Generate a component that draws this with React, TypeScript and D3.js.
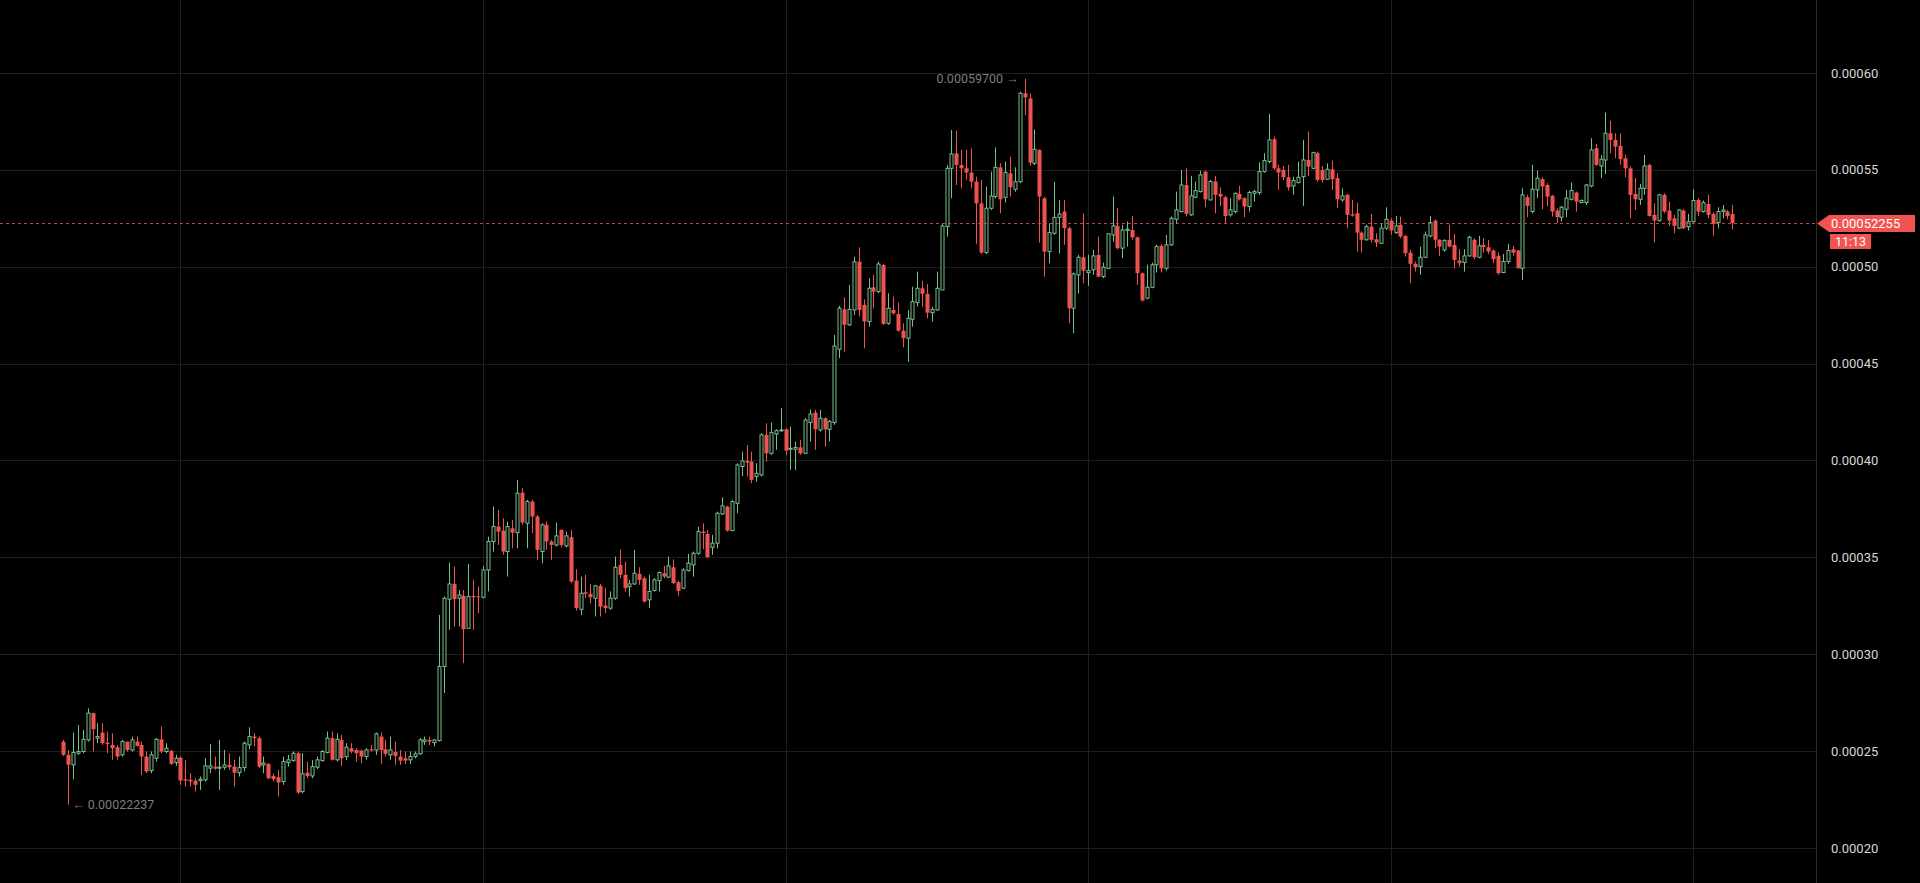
import React from "react";
import * as d3 from "d3";

const W = 1920;
const H = 883;

// prices stored in millionths (x 1e-6)
const PRICE_UNIT = 1e-6;

// [open, high, low, close]
const ohlcA: number[][] = [
  [254.9,255.8,247.5,248.1],[248.1,250.6,222.37,242.9],[242.9,259.6,235.5,249.3],[248.9,263.5,248.1,249.8],
  [249.8,261.0,248.9,256.1],[255.8,272.1,254.9,269.6],[269.6,269.9,249.8,261.3],[256.7,264.4,254.1,257.5],
  [259.6,264.4,253.2,254.1],[254.4,260.1,248.9,253.7],[253.2,259.2,245.5,251.5],[252.0,253.2,245.5,247.2],
  [248.1,255.8,247.2,254.9],[254.9,254.9,249.8,250.6],[250.6,257.5,249.8,255.8],[254.9,257.5,252.4,252.7],
  [253.2,254.9,237.7,247.2],[247.2,249.8,238.6,239.5],[240.0,249.8,238.6,248.1],[246.3,256.7,244.6,256.1],
  [256.1,262.7,248.9,249.8],[249.8,254.1,248.9,251.5],[250.1,250.6,242.9,243.4],[244.1,248.1,242.4,246.3],
  [246.7,247.2,232.6,234.8],[235.5,245.5,231.7,234.8],[235.2,238.6,231.7,234.3],[234.8,236.0,229.1,232.6],
  [234.8,236.9,230.0,235.5],[235.2,246.3,234.3,242.4],[241.2,253.7,238.6,242.4],[242.0,247.2,240.3,241.0],
  [241.2,255.8,230.0,241.7],[241.7,250.6,240.3,242.9],[242.9,248.9,240.3,241.7],[242.0,245.5,231.7,238.9],
  [238.9,247.2,236.9,241.5],[241.5,254.9,239.5,254.1],[253.2,262.3,251.0,257.5],[257.5,259.2,252.4,256.7],
  [256.7,257.5,241.2,242.0],[242.9,247.2,238.6,243.8],[243.4,243.8,235.5,236.0],[237.2,238.6,234.3,235.5],
  [236.5,240.3,226.6,233.8],[234.3,247.2,232.6,244.6],[244.1,248.1,242.0,245.5],[245.1,249.8,244.6,248.9],
  [248.9,249.8,227.9,228.6],[229.1,248.9,228.3,238.3],[238.9,244.6,236.0,237.2],[237.2,245.5,236.0,242.0],
  [241.7,247.2,240.7,245.5],[245.1,250.6,244.6,249.8],[249.3,260.1,248.9,256.7],[256.7,260.1,245.1,245.5],
  [245.5,259.2,244.6,256.1],[255.8,258.4,242.4,246.3],[247.2,254.1,245.5,252.0],[251.5,254.1,248.9,249.8],
  [250.6,251.5,244.6,248.9],[250.3,250.6,243.8,247.2],[247.2,251.5,245.5,250.6],[251.0,253.2,249.8,250.3],
  [250.6,259.6,248.1,258.9],[257.5,259.6,243.4,250.6],[251.0,255.8,247.2,248.6],[248.1,257.5,245.5,250.6],
  [249.6,254.9,242.9,247.5],[247.2,250.6,242.9,245.1],[246.3,249.8,243.4,245.1],[245.5,249.8,243.4,247.2],
  [247.2,249.8,246.3,248.6],[248.6,256.7,248.1,255.8],[254.9,257.5,253.2,255.8],[255.8,257.5,253.2,254.9],
  [254.4,256.1,252.4,255.8],
];

const ohlcB: number[][] = [
  [255.5,320.3,255.0,293.7],[293.7,329.8,280.0,328.9],[328.4,347.3,312.6,336.3],[336.3,345.3,314.3,328.4],
  [328.9,333.2,314.3,330.6],[330.1,333.2,295.4,312.9],[313.4,346.6,313.4,329.8],[330.1,338.4,312.6,329.4],
  [329.8,335.0,321.2,329.4],[329.4,345.3,328.9,343.5],[343.5,360.7,332.4,358.2],[358.2,376.2,353.0,365.9],
  [365.9,374.5,356.4,363.3],[363.8,370.2,351.3,353.0],[353.0,368.5,340.1,365.9],[365.0,369.3,354.7,362.8],
  [362.8,390.0,354.7,383.1],[383.4,385.7,366.8,368.0],[367.6,379.7,354.7,378.8],[378.8,379.7,362.5,371.1],
  [371.1,371.9,348.7,353.9],[353.0,367.6,347.0,366.8],[366.8,368.5,353.9,358.2],[358.2,359.0,348.7,356.4],
  [356.4,368.0,355.6,361.1],[364.2,364.5,355.2,356.4],[355.9,363.3,355.2,361.1],[360.4,364.2,336.7,337.5],
  [338.0,343.9,322.6,323.8],[323.2,340.1,320.3,331.5],[332.0,341.0,328.9,331.2],[331.2,336.3,326.3,329.4],
  [328.9,335.8,319.5,335.3],[335.3,336.3,319.5,324.6],[325.1,334.1,321.2,323.8],[323.8,332.4,322.9,328.9],
  [328.9,350.4,328.1,344.9],[346.1,354.2,339.2,341.0],[341.0,347.8,332.4,334.1],[334.9,338.4,329.8,336.3],
  [336.3,353.9,335.8,341.8],[341.5,344.9,335.8,338.4],[339.2,340.1,326.7,327.2],[328.1,341.0,323.8,332.4],
  [332.9,339.2,332.4,338.4],[338.0,342.7,332.4,342.2],[341.8,345.6,339.2,340.1],[339.8,350.4,339.2,345.6],
  [344.9,349.0,336.3,336.7],[337.2,338.0,330.1,332.7],[334.1,344.4,333.7,343.5],[343.2,351.8,342.7,347.0],
  [346.1,353.0,340.1,352.1],[352.1,365.9,351.3,363.3],[363.3,367.6,354.2,362.5],[362.1,364.2,349.6,350.1],
  [355.2,361.6,351.3,357.3],[357.3,373.6,354.7,372.8],[372.4,381.0,371.9,376.6],[376.2,376.6,363.3,363.8],
  [363.8,379.7,363.6,378.8],[377.9,398.6,372.8,397.7],
];

const ohlcC: number[][] = [
  [396.9,404.6,392.0,399.8],[399.8,408.0,391.7,398.9],[399.4,404.6,388.3,390.0],[391.7,398.6,389.1,393.4],
  [392.6,414.1,391.7,413.2],[413.2,419.2,399.4,403.7],[403.7,419.6,402.9,414.4],[413.7,416.1,405.5,415.4],
  [415.3,427.0,414.9,415.8],[416.1,416.6,402.9,405.1],[405.8,417.5,395.1,406.3],[405.8,409.8,395.1,406.8],
  [406.8,410.6,402.9,403.7],[403.7,421.8,403.4,420.9],[419.6,426.4,409.8,424.0],[424.7,426.1,405.5,416.1],
  [415.8,426.1,414.9,421.8],[421.8,422.3,407.2,416.1],[416.1,420.9,409.8,420.1],[419.6,464.8,418.4,459.1],
  [457.4,479.8,452.8,478.6],[478.0,484.2,456.2,470.0],[470.0,490.6,469.4,478.0],[477.7,505.2,475.1,502.6],
  [502.6,510.0,474.3,477.7],[480.3,483.2,457.9,471.7],[471.7,494.0,469.1,488.9],[489.4,495.8,478.6,487.2],
  [487.2,502.6,486.3,501.4],[500.9,501.4,470.0,470.5],[470.8,486.3,470.0,478.6],[477.7,484.6,475.1,476.0],
  [475.6,481.5,466.5,467.0],[467.0,470.8,458.4,463.1],[463.1,477.7,451.0,473.4],[472.9,489.7,469.1,482.0],
  [481.5,497.5,479.4,488.9],[488.9,492.8,479.4,486.0],[486.0,491.1,473.4,476.3],[476.3,479.4,471.7,478.0],
  [477.7,497.5,477.4,488.9],[488.0,522.4,488.0,521.0],[520.7,552.5,515.5,550.8],[550.8,570.6,535.3,558.2],
  [558.5,570.2,542.2,552.5],[552.5,560.3,540.5,550.8],[550.8,560.3,544.8,548.6],[548.6,561.1,540.5,543.9],
  [543.9,546.5,511.8,532.7],[532.7,544.8,506.6,507.3],[507.3,541.3,506.6,530.2],[530.2,549.1,529.3,536.5],
  [536.2,561.6,535.3,551.3],[551.3,553.4,527.6,534.8],[535.8,554.2,533.1,548.6],[548.2,556.8,536.2,541.0],
  [540.0,551.3,538.8,543.9],[543.9,590.4,543.1,589.5],[589.5,597.0,578.3,587.4],[586.9,589.5,552.0,553.7],
  [553.4,570.9,552.5,560.6],[560.3,560.6,512.4,536.2],[535.3,536.2,494.9,507.8],[507.8,522.4,501.8,517.6],
  [517.3,543.9,516.4,525.5],[525.5,534.5,506.9,527.2],
];

const ohlcD: number[][] = [
  [528.5,534.5,511.3,519.9],[519.9,520.7,470.9,478.6],[478.6,497.0,465.7,496.3],[495.8,506.1,486.3,504.9],
  [504.9,527.6,491.5,498.0],[497.0,506.1,490.1,498.0],[498.4,508.7,495.8,505.6],[506.1,515.6,494.6,494.9],
  [494.9,502.2,494.1,499.8],[499.2,517.3,498.7,517.0],[516.4,536.2,513.0,521.1],[521.1,530.2,509.0,509.6],
  [509.6,521.6,504.4,519.0],[518.7,523.3,510.4,519.4],[519.0,526.2,513.9,515.2],[515.2,515.6,490.6,496.7],
  [496.7,497.0,482.0,482.6],[483.8,501.0,483.2,489.4],[489.4,502.2,488.9,501.0],[501.0,511.3,497.0,510.4],
  [510.8,511.8,497.0,499.2],[499.2,516.4,498.0,511.3],[511.3,525.9,510.8,525.0],[524.5,538.8,522.1,529.3],
  [528.5,550.0,528.0,542.2],[542.2,550.8,525.9,527.3],[526.8,546.9,526.2,536.6],[535.9,544.0,535.4,539.3],
  [538.8,549.6,538.3,547.4],[549.1,549.6,530.7,534.8],[534.5,544.8,534.2,544.0],[544.0,546.9,527.6,537.1],
  [537.6,541.0,531.4,536.2],[535.9,536.6,522.1,526.2],[526.8,535.4,525.9,529.3],[528.5,538.3,527.6,537.9],
  [537.6,541.7,534.2,534.8],[535.4,535.9,525.6,531.1],[531.1,539.3,528.5,538.3],[537.9,539.7,533.6,538.8],
  [538.3,553.8,537.1,549.1],[549.1,558.6,548.6,554.8],[554.3,578.9,553.4,565.5],[565.8,567.2,550.0,550.8],
  [550.8,552.6,539.7,548.6],[550.0,552.0,544.8,546.2],[546.2,552.6,539.3,541.0],[541.7,546.5,537.1,544.5],
  [543.4,554.3,543.1,546.2],[546.5,565.5,531.4,555.1],[555.1,569.8,546.9,551.7],[550.8,559.4,550.3,558.9],
  [558.6,559.4,543.9,544.8],[550.0,552.0,543.4,544.8],[545.2,553.4,544.8,550.3],[550.3,554.8,539.7,545.2],
  [545.7,548.3,530.2,534.8],
];

const ohlcE: number[][] = [
  [534.5,540.5,533.6,536.6],[537.1,537.6,519.9,526.8],[527.1,534.5,525.9,526.4],[527.6,533.1,507.8,517.6],
  [517.6,518.2,507.3,513.9],[513.9,521.6,513.5,520.7],[520.7,527.3,512.5,513.9],[514.2,517.3,510.1,512.5],
  [512.1,522.5,511.8,519.9],[519.9,530.7,519.0,524.5],[523.8,525.0,516.4,518.7],[517.6,526.2,517.0,521.1],
  [521.6,525.9,514.7,515.6],[515.9,516.4,505.3,507.0],[507.3,508.7,491.5,501.5],[501.5,502.7,497.5,499.8],
  [500.1,510.4,495.8,504.9],[504.9,518.2,504.4,516.4],[515.9,526.2,515.2,522.8],[523.8,524.5,509.6,513.9],
  [513.9,514.2,505.6,510.4],[508.7,514.2,507.8,513.5],[513.9,521.6,510.1,510.4],[511.3,517.0,499.2,503.5],
  [503.2,509.0,500.1,501.8],[502.2,509.0,497.5,505.6],[505.6,515.9,505.3,515.2],[513.9,514.7,503.9,504.9],
  [504.9,515.9,504.4,510.8],[511.3,514.7,507.3,510.1],[510.1,513.9,506.6,507.8],[508.4,509.0,501.8,503.9],
  [505.6,507.3,495.8,496.7],[497.0,506.6,496.7,502.7],[502.7,511.8,501.5,508.4],[509.0,510.8,505.6,507.3],
  [508.4,508.7,499.2,499.2],[499.2,540.5,493.2,537.1],[535.9,537.1,525.6,531.4],[528.5,552.6,527.6,540.0],
  [539.7,549.6,535.4,545.7],[545.2,546.2,529.7,541.4],[542.2,543.1,531.1,536.2],[536.6,537.1,525.9,528.5],
  [529.0,530.2,522.5,525.6],[525.6,531.4,523.3,530.7],[529.7,539.7,525.6,535.4],[534.8,543.4,534.2,539.3],
  [538.3,538.8,528.5,533.6],[533.1,534.8,532.8,534.2],[533.1,542.8,531.9,542.2],[541.7,566.3,541.0,560.3],
  [561.2,563.4,552.0,552.6],[552.0,557.7,545.7,555.5],[555.1,579.6,547.9,568.9],[568.9,575.4,558.6,565.5],
  [565.5,568.9,556.0,562.0],[562.4,568.9,552.6,555.5],[556.0,557.7,546.2,550.8],[550.8,551.7,525.0,537.1],
  [537.6,545.7,529.3,534.8],[534.8,542.8,531.9,540.5],[540.5,557.7,537.1,552.0],[552.6,553.1,525.9,526.2],
  [526.8,532.8,512.5,523.8],[523.8,537.6,523.3,537.1],[537.1,537.9,527.6,528.5],[529.0,533.6,521.1,523.8],
  [525.0,526.8,517.3,521.1],[519.9,529.7,519.4,529.3],[529.0,529.7,519.4,519.9],[520.7,527.3,518.7,523.3],
  [523.3,540.0,522.8,534.2],[534.5,535.4,526.2,528.5],[528.5,534.2,528.0,533.1],[532.4,537.1,525.0,526.8],
  [527.3,528.0,515.9,522.1],[522.8,530.7,519.9,528.5],[528.5,531.9,525.0,529.3],[528.5,529.3,524.5,526.2],
  [527.3,531.9,519.4,522.55],
];

const PRICE_TICKS = [0.0002, 0.00025, 0.0003, 0.00035, 0.0004, 0.00045, 0.0005, 0.00055, 0.0006];
const TIME_GRID_INDEX = [24, 86, 148, 210, 272, 334];
const LAST_PRICE = 0.00052255;
const COUNTDOWN = "11:13";

const UP = "#76c08e";
const DOWN = "#ef5350";
const GRID = "#1e1e1e";

type Candle = { o: number; h: number; l: number; c: number };

const CANDLES: Candle[] = [...ohlcA, ...ohlcB, ...ohlcC, ...ohlcD, ...ohlcE].map(([o, h, l, c]) => ({
  o: o * PRICE_UNIT,
  h: h * PRICE_UNIT,
  l: l * PRICE_UNIT,
  c: c * PRICE_UNIT,
}));

const AXIS_X = 1816;

export default function App() {
  const y = d3.scaleLinear().domain([0.0002, 0.0006]).range([848, 73]);
  const x = d3.scaleLinear().domain([0, CANDLES.length - 1]).range([63.3, 1732.3]);
  const fmtTick = d3.format(".5f");
  const fmtPrice = d3.format(".8f");

  const maxIdx = d3.maxIndex(CANDLES, (d) => d.h);
  const minIdx = d3.minIndex(CANDLES, (d) => d.l);
  const maxC = CANDLES[maxIdx];
  const minC = CANDLES[minIdx];

  const lastY = Math.round(y(LAST_PRICE)) + 0.5;
  const font = "Roboto, 'Liberation Sans', Arial, sans-serif";

  return (
    <div style={{ position: "fixed", left: 0, top: 0, width: W, height: H, background: "#000", overflow: "hidden" }}>
      <svg width={W} height={H} style={{ display: "block", background: "#000" }}>
        {/* horizontal grid */}
        {PRICE_TICKS.map((t) => (
          <line key={"h" + t} x1={0} x2={AXIS_X} y1={Math.round(y(t)) + 0.5} y2={Math.round(y(t)) + 0.5} stroke={GRID} strokeWidth={1} />
        ))}
        {/* vertical grid */}
        {TIME_GRID_INDEX.map((i) => (
          <line key={"v" + i} x1={Math.round(x(i)) + 0.5} x2={Math.round(x(i)) + 0.5} y1={0} y2={H} stroke={GRID} strokeWidth={1} />
        ))}

        {/* candles */}
        {CANDLES.map((d, i) => {
          const cx = Math.round(x(i));
          const up = d.c >= d.o;
          const col = up ? UP : DOWN;
          const top = y(Math.max(d.o, d.c));
          const bot = y(Math.min(d.o, d.c));
          const bh = Math.max(1, bot - top);
          return (
            <g key={i}>
              <line x1={cx + 0.5} x2={cx + 0.5} y1={y(d.h)} y2={y(d.l)} stroke={col} strokeWidth={1} />
              {up ? (
                <rect x={cx - 1} y={top} width={3} height={Math.max(0.5, bh)} fill="#000" stroke={col} strokeWidth={1} />
              ) : (
                <rect x={cx - 1.5} y={top} width={4} height={bh} fill={col} />
              )}
            </g>
          );
        })}

        {/* last price dashed line */}
        <line x1={0} x2={AXIS_X} y1={lastY} y2={lastY} stroke="#e0504e" strokeOpacity={0.85} strokeWidth={1} strokeDasharray="3,3" />

        {/* max / min annotations */}
        <text
          x={x(maxIdx) - 6}
          y={y(maxC.h)}
          dy="0.35em"
          textAnchor="end"
          fill="#7d7d7d"
          fontSize={12.5}
          fontFamily={font}
        >
          {fmtPrice(maxC.h) + "  →"}
        </text>
        <text x={x(minIdx) + 4} y={y(minC.l)} dy="0.35em" textAnchor="start" fill="#7d7d7d" fontSize={12.5} fontFamily={font}>
          {"←  " + fmtPrice(minC.l)}
        </text>

        {/* right axis */}
        <rect x={AXIS_X} y={0} width={W - AXIS_X} height={H} fill="#000" />
        <line x1={AXIS_X + 0.5} x2={AXIS_X + 0.5} y1={0} y2={H} stroke="#2b2b2b" strokeWidth={1} />
        {PRICE_TICKS.map((t) => (
          <text key={"t" + t} x={1831} y={y(t)} dy="0.35em" fill="#d6d6d6" fontSize={13} fontFamily={font}>
            {fmtTick(t)}
          </text>
        ))}

        {/* last price label */}
        <path
          d={`M${AXIS_X + 1},${lastY} L${1829},${lastY - 8.5} L${1915},${lastY - 8.5} L${1915},${lastY + 8.5} L${1829},${lastY + 8.5} Z`}
          fill="#f05350"
        />
        <text x={1831} y={lastY} dy="0.36em" fill="#fff" fontSize={13} fontFamily={font}>
          {fmtPrice(LAST_PRICE)}
        </text>
        <rect x={1830} y={lastY + 10.5} width={41} height={15} fill="#f05350" />
        <text x={1850.5} y={lastY + 18} dy="0.36em" textAnchor="middle" fill="#fff" fontSize={12.5} fontFamily={font}>
          {COUNTDOWN}
        </text>
      </svg>
    </div>
  );
}
